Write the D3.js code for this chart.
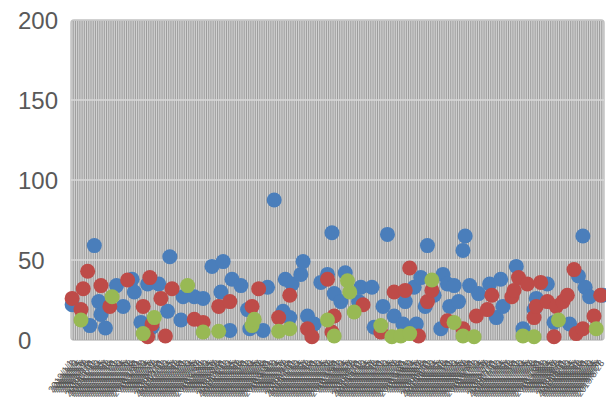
<!DOCTYPE html>
<html>
<head>
<meta charset="utf-8">
<script src="https://cdn.jsdelivr.net/npm/d3@7"></script>
<style>
  html, body { margin: 0; padding: 0; background: #ffffff; }
  svg { display: block; }
</style>
</head>
<body>
<svg id="chart" width="606" height="401"></svg>
<script>
// Category labels: one per day
const categories = d3.timeDay
  .range(new Date(2019, 0, 1), new Date(2019, 7, 29))
  .map(d3.timeFormat("%Y/%-m/%-d"));

const yTicks = [0, 50, 100, 150, 200];

// Series values as [category index, value]
const seriesBlue = [
  [0,22],[8,9],[10,59],[12,24],[13,16],[15,7.5],[20,34],[23,21],[27,38],[28,30],
  [31,11],[34,35],[36,8],[39,35],[43,18],[44,52],[49,12.5],[50,27],[55,27],[59,26],
  [63,46],[67,30],[68,49],[71,6],[72,38],[76,34],[79,19],[80,7],[86,6],[88,33],
  [91,87.5],[95,18],[96,38],[98,14],[99,35],[103,41],[104,49],[106,15],[109,10],[112,36],
  [115,41],[117,67],[118,29],[121,24],[123,42],[129,24],[130,33],[135,33],[136,8],[140,21],
  [142,66],[145,15],[149,10],[150,24],[154,33],[155,10],[157,39],[159,21],[160,59],[163,28],
  [166,7],[167,41],[169,35],[170,21],[172,34],[174,24],[176,56],[177,65],[179,34],[183,29],
  [188,35],[191,14],[193,38],[194,21],[200,46],[203,7],[208,19],[209,26],[214,35],[217,11],
  [224,10],[228,40],[230,65],[231,33],[233,27],[239,28]
];

const seriesRed = [
  [0,26],[4,19],[5,32],[7,43],[13,34],[17,21],[25,37.5],[32,21],[34,2],[35,39],
  [36,10],[40,26],[42,2.5],[45,32],[55,13],[59,11],[66,21],[71,24],[81,21],[84,32],
  [93,14],[98,28],[106,7],[108,2],[115,38],[117,5],[118,15],[131,22],[139,5],[145,30],
  [150,31],[152,45],[156,2.5],[160,24],[162,31],[169,12],[176,7],[182,15],[187,19],[189,28],
  [198,27],[199,31],[201,39],[205,35],[208,14],[209,21],[211,36],[214,24],[217,2],[218,21],
  [221,24],[223,28],[226,44],[227,4],[230,7],[235,15],[238,28]
];

const seriesGreen = [
  [4,12.5],[18,27],[32,4],[37,14],[52,34],[59,5],[66,5.5],[81,9],[82,13],[93,5.5],
  [98,7],[115,12.5],[118,2.5],[124,37],[125,30],[127,17.5],[139,9],[144,2],[148,2.5],[152,4],
  [162,37.5],[172,11],[176,2.5],[181,2],[203,2.5],[208,2],[219,12.5],[236,7]
];

const series = [
  { name: "blue", color: "#4a7ebb", data: seriesBlue },
  { name: "red", color: "#be4b48", data: seriesRed },
  { name: "green", color: "#98b954", data: seriesGreen }
];

const svg = d3.select("#chart");
const plot = { left: 71, right: 604, top: 20, bottom: 340 };

const x = d3.scaleBand()
  .domain(d3.range(categories.length))
  .range([plot.left, plot.right])
  .padding(0);

const y = d3.scaleLinear()
  .domain([0, 200])
  .range([plot.bottom, plot.top]);

// Plot area
svg.append("rect")
  .attr("x", plot.left)
  .attr("y", plot.top)
  .attr("width", plot.right - plot.left)
  .attr("height", plot.bottom - plot.top)
  .attr("rx", 3)
  .attr("fill", "#d2d2d2")
  .attr("stroke", "#c2c2c2")
  .attr("stroke-width", 1.5);

// Vertical gridlines, one per category
svg.append("g")
  .selectAll("line")
  .data(d3.range(1, categories.length))
  .join("line")
  .attr("x1", d => x(d))
  .attr("x2", d => x(d))
  .attr("y1", plot.top + 1)
  .attr("y2", plot.bottom)
  .attr("stroke", "#9c9c9c")
  .attr("stroke-width", 1);

// Horizontal gridlines
svg.append("g")
  .selectAll("line")
  .data(yTicks.filter(t => t > 0 && t < 200))
  .join("line")
  .attr("x1", plot.left)
  .attr("x2", plot.right)
  .attr("y1", d => y(d))
  .attr("y2", d => y(d))
  .attr("stroke", "#d8d8d8")
  .attr("stroke-width", 1.5);

// Y axis labels
const yAxis = d3.axisLeft(y).tickValues(yTicks).tickSize(0).tickPadding(0);
const gy = svg.append("g").attr("transform", "translate(18,0)").call(yAxis);
gy.select(".domain").remove();
gy.selectAll("text")
  .attr("text-anchor", "start")
  .attr("x", 0)
  .attr("dy", "0.36em")
  .attr("fill", "#595959")
  .style("font-family", "'Liberation Sans', Arial, sans-serif")
  .style("font-size", "24px");

// X axis labels
const xAxis = d3.axisBottom(x).tickFormat(i => categories[i]).tickSize(0).tickPadding(0);
const gx = svg.append("g").attr("transform", `translate(0,${plot.bottom})`).call(xAxis);
gx.select(".domain").remove();
gx.selectAll(".tick text")
  .attr("y", 0)
  .attr("dy", 0)
  .attr("text-anchor", "end")
  .attr("transform", "translate(2,23) rotate(-55)")
  .attr("fill", "#555555")
  .style("font-family", "'Liberation Sans', Arial, sans-serif")
  .style("font-size", "9.5px");

// Markers
series.forEach(s => {
  svg.append("g")
    .selectAll("circle")
    .data(s.data)
    .join("circle")
    .attr("cx", d => x(d[0]) + x.bandwidth() / 2)
    .attr("cy", d => y(d[1]))
    .attr("r", 7.5)
    .attr("fill", s.color);
});
</script>
</body>
</html>
